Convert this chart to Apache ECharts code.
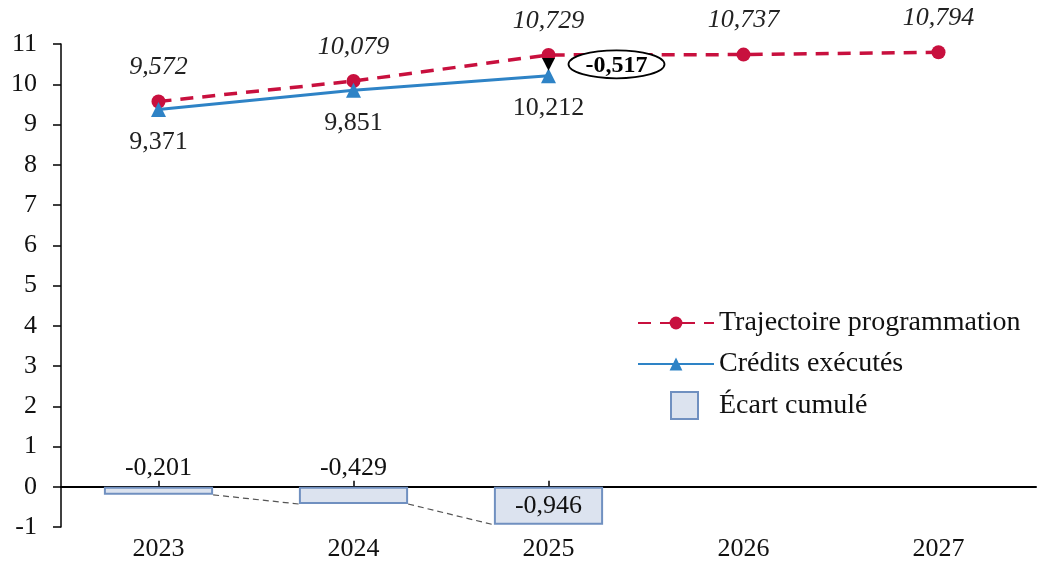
<!DOCTYPE html>
<html>
<head>
<meta charset="utf-8">
<script src="https://cdn.jsdelivr.net/npm/echarts@6/dist/echarts.min.js"></script>
<style>html,body{margin:0;padding:0;background:#fff;}#c{width:1040px;height:562px;}</style>
</head>
<body>
<div id="c"></div>
<script>
const years = ['2023', '2024', '2025', '2026', '2027'];
const trajectoire = [9.572, 10.079, 10.729, 10.737, 10.794];
const credits = [9.371, 9.851, 10.212, null, null];
const ecart = [-0.201, -0.429, -0.946];
const yMin = -1, yMax = 11, yStep = 1;

const FONT = 'Liberation Serif';
const FS = 26;
const fmt = v => v.toFixed(3).replace('.', ',');
const RED = '#C8103E', BLUE = '#2E83C6';
const BAR_RATIO = 0.56;

// gap index: last executed year
const gapIdx = credits.filter(v => v != null).length - 1;
const gapValue = credits[gapIdx] - trajectoire[gapIdx];

const connectors = [];
for (let i = 0; i < ecart.length - 1; i++) connectors.push([i, ecart[i], ecart[i + 1]]);

const chart = echarts.init(document.getElementById('c'), null, {renderer: 'canvas'});
chart.setOption({
  animation: false,
  backgroundColor: '#fff',
  grid: {left: 61, right: 4, top: 44, bottom: 35, containLabel: false, outerBoundsMode: 'none'},
  legend: [{
    orient: 'vertical', left: 632, top: 304, itemWidth: 76, itemHeight: 16, itemGap: 13,
    data: ['Trajectoire programmation', 'Crédits exécutés'],
    textStyle: {fontFamily: FONT, fontSize: 28, color: '#111'}
  }, {
    orient: 'vertical', left: 665, top: 386, itemWidth: 27, itemHeight: 27,
    data: [{name: 'Écart cumulé', icon: 'rect'}],
    textStyle: {fontFamily: FONT, fontSize: 28, color: '#111', padding: [0, 0, 0, 16]}
  }],
  xAxis: [{
    type: 'category', data: years, position: 'bottom',
    axisLine: {show: false, onZero: false},
    axisTick: {show: false},
    axisLabel: {margin: 9, fontFamily: FONT, fontSize: FS, color: '#111'},
    splitLine: {show: false}
  }, {
    type: 'category', data: years, position: 'top',
    axisLine: {show: true, onZero: true, lineStyle: {color: '#000', width: 2}},
    axisTick: {show: true, alignWithLabel: true, length: 6, interval: idx => idx < ecart.length,
      lineStyle: {color: '#000', width: 1.5}},
    axisLabel: {show: false},
    splitLine: {show: false}
  }],
  yAxis: {
    type: 'value', min: yMin, max: yMax, interval: yStep,
    axisLine: {show: true, lineStyle: {color: '#000', width: 1.5}},
    axisTick: {show: true, length: 8, lineStyle: {color: '#000', width: 1.5}},
    axisLabel: {margin: 24, fontFamily: FONT, fontSize: FS, color: '#111'},
    splitLine: {show: false}
  },
  series: [
    {
      name: 'Écart cumulé', type: 'bar', barWidth: (BAR_RATIO * 100) + '%',
      data: ecart.map((v, i) => ({
        value: v,
        label: {position: i < ecart.length - 1 ? 'top' : 'inside', distance: 6}
      })),
      itemStyle: {color: '#DCE3EF', borderColor: '#7090C0', borderWidth: 2},
      label: {show: true, formatter: p => fmt(p.value), fontFamily: FONT, fontSize: FS, color: '#111'},
      z: 1
    },
    {
      name: 'connectors', type: 'custom', data: connectors, z: 1, silent: true,
      renderItem: (params, api) => {
        const p1 = api.coord([api.value(0), api.value(1)]);
        const p2 = api.coord([api.value(0) + 1, api.value(2)]);
        const half = api.size([1, 0])[0] * BAR_RATIO / 2;
        return {type: 'line', shape: {x1: p1[0] + half, y1: p1[1], x2: p2[0] - half, y2: p2[1]},
          style: {stroke: '#555', lineWidth: 1.2, lineDash: [6, 4]}};
      }
    },
    {
      name: 'Trajectoire programmation', type: 'line', data: trajectoire,
      symbol: 'circle', symbolSize: 14, color: RED,
      lineStyle: {color: RED, width: 3.5, type: [13, 9]},
      itemStyle: {color: RED},
      label: {show: true, position: 'top', distance: 14, formatter: p => fmt(p.value),
        fontFamily: FONT, fontSize: FS, fontStyle: 'italic', color: '#222'},
      z: 3
    },
    {
      name: 'Crédits exécutés', type: 'line', data: credits,
      symbol: 'triangle', symbolSize: 15, color: BLUE,
      lineStyle: {color: BLUE, width: 3},
      itemStyle: {color: BLUE},
      label: {show: true, position: 'bottom', distance: 12, formatter: p => fmt(p.value),
        fontFamily: FONT, fontSize: FS, color: '#222'},
      z: 3
    },
    {
      name: 'gap', type: 'custom', data: [[gapIdx, trajectoire[gapIdx], credits[gapIdx], gapValue]], z: 4, silent: true,
      renderItem: (params, api) => {
        const pR = api.coord([api.value(0), api.value(1)]);
        const pB = api.coord([api.value(0), api.value(2)]);
        const x = pR[0];
        const cy = (pR[1] + pB[1]) / 2 - 1;
        const cx = x + 68;
        return {type: 'group', children: [
          {type: 'polygon', shape: {points: [[x - 6.5, pR[1] + 3], [x + 6.5, pR[1] + 3], [x, pB[1] - 5]]},
            style: {fill: '#000'}},
          {type: 'ellipse', shape: {cx: cx, cy: cy, rx: 48, ry: 14},
            style: {fill: '#fff', stroke: '#000', lineWidth: 1.8}},
          {type: 'text', style: {text: fmt(api.value(3)), x: cx, y: cy + 1, align: 'center', verticalAlign: 'middle',
            font: 'bold 24px "' + FONT + '"', fill: '#000'}}
        ]};
      }
    }
  ]
});
</script>
</body>
</html>
